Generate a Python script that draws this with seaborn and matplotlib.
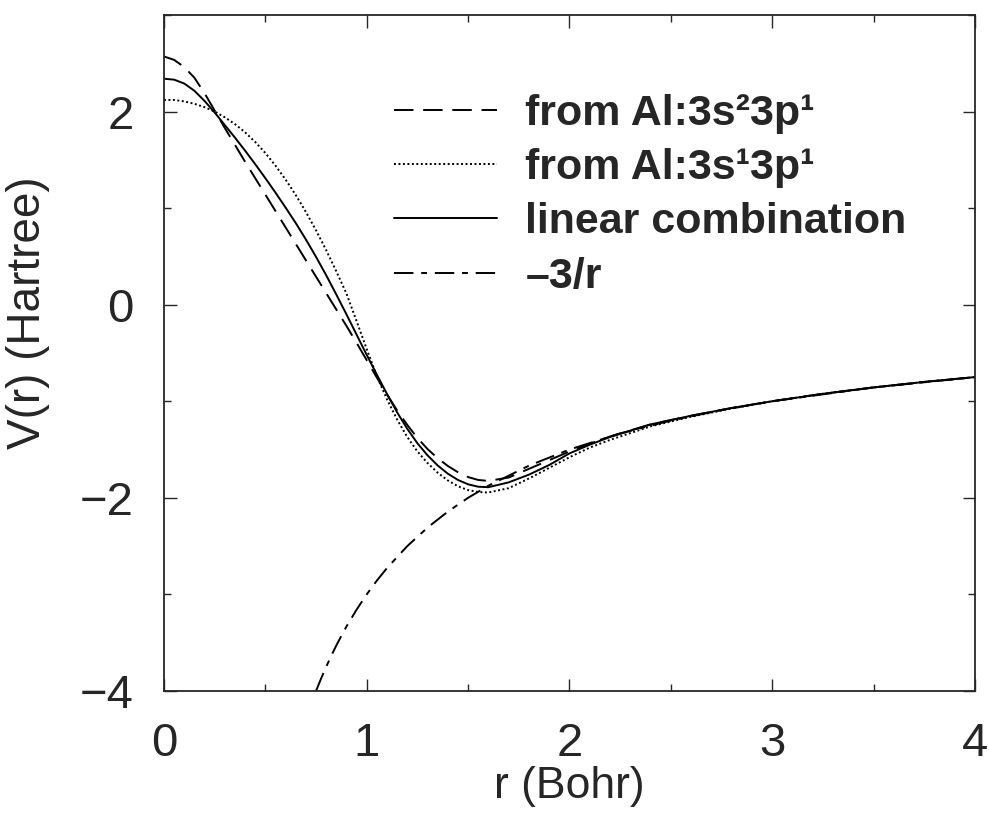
import pandas as pd
import seaborn as sns
from matplotlib import pyplot as plt
from matplotlib.ticker import MultipleLocator

# radial grid (Bohr) shared by the three pseudopotentials
r = [0.0, 0.05, 0.1, 0.15, 0.2, 0.25, 0.3, 0.35, 0.4, 0.45, 0.5, 0.55, 0.6, 0.65,
     0.7, 0.75, 0.8, 0.85, 0.9, 0.95, 1.0, 1.05, 1.1, 1.15, 1.2, 1.25, 1.3, 1.35,
     1.4, 1.45, 1.5, 1.55, 1.6, 1.7, 1.8, 1.9, 2.0, 2.1, 2.2, 2.4, 2.6, 2.8, 3.0,
     3.25, 3.5, 3.75, 4.0]

# V(r) in Hartree
v_s2p1 = [2.57, 2.535, 2.46, 2.35, 2.19, 2.01, 1.83, 1.655, 1.48, 1.31, 1.14, 0.97,
          0.80, 0.63, 0.46, 0.29, 0.12, -0.05, -0.22, -0.395, -0.575, -0.755, -0.93,
          -1.095, -1.245, -1.38, -1.495, -1.59, -1.67, -1.735, -1.785, -1.815,
          -1.825, -1.79, -1.70, -1.61, -1.52, -1.44, -1.365, -1.24, -1.15, -1.07,
          -1.0, -0.923, -0.857, -0.80, -0.75]
v_s1p1 = [2.12, 2.12, 2.105, 2.08, 2.045, 2.0, 1.94, 1.87, 1.785, 1.685, 1.57, 1.44,
          1.295, 1.135, 0.96, 0.77, 0.565, 0.345, 0.115, -0.17, -0.46, -0.74, -0.98,
          -1.19, -1.37, -1.52, -1.64, -1.74, -1.82, -1.88, -1.92, -1.94, -1.945,
          -1.90, -1.80, -1.69, -1.58, -1.48, -1.40, -1.26, -1.16, -1.075, -1.0,
          -0.923, -0.857, -0.80, -0.75]
v_lin = [2.34, 2.33, 2.29, 2.215, 2.11, 1.99, 1.86, 1.73, 1.595, 1.455, 1.31, 1.16,
         1.005, 0.845, 0.675, 0.495, 0.305, 0.105, -0.10, -0.31, -0.52, -0.725,
         -0.925, -1.115, -1.285, -1.435, -1.56, -1.665, -1.75, -1.815, -1.86,
         -1.885, -1.89, -1.84, -1.76, -1.66, -1.54, -1.45, -1.37, -1.24, -1.15,
         -1.07, -1.0, -0.923, -0.857, -0.80, -0.75]

# bare Coulomb tail
r_coul = [0.75, 0.775, 0.8, 0.825, 0.85, 0.875, 0.9, 0.95, 1.0, 1.05, 1.1, 1.2,
          1.3, 1.4, 1.5, 1.6, 1.8, 2.0, 2.25, 2.5, 2.75, 3.0, 3.5, 4.0]
v_coul = [-4.0, -3.871, -3.75, -3.636, -3.529, -3.429, -3.333, -3.158, -3.0, -2.857,
          -2.727, -2.5, -2.308, -2.143, -2.0, -1.875, -1.667, -1.5, -1.333, -1.2,
          -1.091, -1.0, -0.857, -0.75]

labels = ["from Al:3s\u00b23p\u00b9", "from Al:3s\u00b93p\u00b9",
          "linear combination", "\u20133/r"]

sns.set_style("ticks")
plt.rcParams['font.family'] = ['Liberation Sans', 'DejaVu Sans']

fig = plt.figure(figsize=(9.89, 8.13), dpi=100)
ax = fig.add_axes([0.1658, 0.1501, 0.8200, 0.8315])

lw = 1.4
styles = [(0, (10, 5)), (0, (1, 1.3)), '-', (0, (10, 4, 3, 4))]
curves = [(r, v_s2p1), (r, v_s1p1), (r, v_lin), (r_coul, v_coul)]
for (xs, ys), ls, lab in zip(curves, styles, labels):
	df = pd.DataFrame({'r': xs, 'V': ys})
	sns.lineplot(data=df, x='r', y='V', ax=ax, color='black', lw=lw,
				 linestyle=ls, label=lab, sort=False)

ax.set_xlim(0, 4)
ax.set_ylim(-4, 3)
ax.xaxis.set_major_locator(MultipleLocator(1))
ax.xaxis.set_minor_locator(MultipleLocator(0.5))
ax.yaxis.set_major_locator(MultipleLocator(2))
ax.yaxis.set_minor_locator(MultipleLocator(1))
ax.tick_params(which='both', direction='in', top=True, right=True, width=1)
ax.tick_params(which='major', length=9, labelsize=34)
ax.tick_params(axis='x', which='major', pad=22)
ax.tick_params(axis='y', which='major', pad=22)
ax.tick_params(which='minor', length=5)
for s in ax.spines.values():
	s.set_linewidth(1.3)

ax.set_xlabel("r (Bohr)", fontsize=32, labelpad=0)
ax.set_ylabel("V(r) (Hartree)", fontsize=33)
ax.yaxis.set_label_coords(-0.141, 0.56)

ax.legend(loc='upper left', bbox_to_anchor=(0.2836, 0.883), frameon=False,
		  prop={'weight': 'bold', 'size': 31}, handlelength=2.4,
		  handletextpad=0.65, labelspacing=0.33, borderpad=0, borderaxespad=0)

fig.savefig('out.png', dpi=100)
